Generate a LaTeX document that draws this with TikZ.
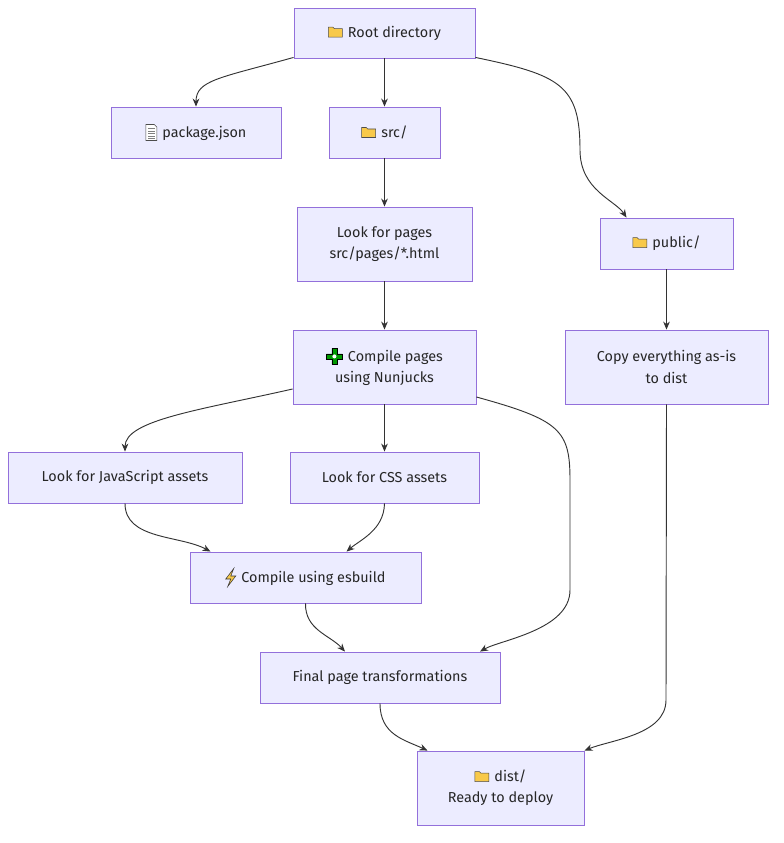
\documentclass[tikz,border=0pt]{standalone}
\usepackage{fontspec}
\setmainfont{Fira Sans}
\usetikzlibrary{arrows.meta}
\definecolor{nfill}{HTML}{ECECFF}
\definecolor{nline}{HTML}{9370DB}
\definecolor{eline}{HTML}{333333}
\definecolor{fold}{HTML}{F8C94A}
\begin{document}
\begin{tikzpicture}[x=0.75pt,y=-0.75pt,
  box/.style={draw=nline,fill=nfill,line width=0.65pt,inner sep=0pt,align=center,font=\fontsize{10.8}{16}\selectfont,text=black!85},
  e/.style={draw=eline,line width=0.7pt,-{Stealth[length=6pt,width=5pt]}},
  folder/.pic={\fill[fold,draw=black!70,line width=0.4pt] (-7,-5)--(-2.5,-5)--(-1,-3.5)--(7,-3.5)--(7,5)--(-7,5)--cycle;},
  doc/.pic={\fill[white,draw=black!70,line width=0.4pt] (-5.5,-8)--(3,-8)--(5.5,-5.5)--(5.5,8)--(-5.5,8)--cycle;
    \foreach \yy in {-4,-1.5,1,3.5,6} \draw[black!50,line width=0.4pt] (-3.5,\yy)--(3.5,\yy);},
  puzzle/.pic={\fill[green!60!black,draw=black,line width=0.4pt] (-2.5,-8)--(2.5,-8)--(2.5,-2.5)--(8,-2.5)--(8,2.5)--(2.5,2.5)--(2.5,8)--(-2.5,8)--(-2.5,2.5)--(-8,2.5)--(-8,-2.5)--(-2.5,-2.5)--cycle;
    \fill[white] (0,0) circle (2);},
  bolt/.pic={\fill[fold,draw=black!80,line width=0.4pt] (3,-9)--(-5,1.5)--(0,1.5)--(-3,9)--(5,-1.5)--(0,-1.5)--cycle;}]
\useasboundingbox (0,0) rectangle (784,843);
\newcommand{\ic}[1]{\tikz[baseline=-3.8pt,x=0.75pt,y=-0.75pt]\pic{#1};\hspace{4pt}}
\node[box,minimum width=181*0.75pt,minimum height=50*0.75pt] (root) at (384.5,33) {\ic{folder}Root directory};
\node[box,minimum width=170*0.75pt,minimum height=51*0.75pt] (pkg) at (196,132.5) {\ic{doc}package.json};
\node[box,minimum width=111*0.75pt,minimum height=51*0.75pt] (src) at (384.5,132.5) {\ic{folder}src/};
\node[box,minimum width=175*0.75pt,minimum height=74*0.75pt] (look) at (384.5,244) {Look for pages\\src/pages/*.html};
\node[box,minimum width=133*0.75pt,minimum height=51*0.75pt] (pub) at (666.5,243.5) {\ic{folder}public/};
\node[box,minimum width=183*0.75pt,minimum height=74*0.75pt] (comp) at (384.5,367) {\ic{puzzle}Compile pages\\using Nunjucks};
\node[box,minimum width=203*0.75pt,minimum height=74*0.75pt] (copy) at (666.5,367) {Copy everything as-is\\to dist};
\node[box,minimum width=234*0.75pt,minimum height=51*0.75pt] (js) at (125,477.5) {Look for JavaScript assets};
\node[box,minimum width=189*0.75pt,minimum height=51*0.75pt] (css) at (384.5,477.5) {Look for CSS assets};
\node[box,minimum width=231*0.75pt,minimum height=51*0.75pt] (esb) at (305.5,577.5) {\ic{bolt}Compile using esbuild};
\node[box,minimum width=240*0.75pt,minimum height=51*0.75pt] (fin) at (380,677.5) {Final page transformations};
\node[box,minimum width=167*0.75pt,minimum height=74*0.75pt] (dist) at (500.5,788) {\ic{folder}dist/\\Ready to deploy};
\draw[e] (root.south west) ++(0,-1) .. controls (220,78) and (196,80) .. (pkg.north);
\draw[e] (root) -- (src);
\draw[e] (root.south east) ++(0,-1) .. controls (560,75) and (580,85) .. (580,150) .. controls (580,190) and (615,200) .. ([xshift=-40*0.75pt]pub.north);
\draw[e] (src) -- (look);
\draw[e] (look) -- (comp);
\draw[e] (pub) -- (copy);
\draw[e] (comp.west) ++(0,22) .. controls (200,410) and (125,420) .. (js.north);
\draw[e] (comp) -- (css);
\draw[e] (comp.east) ++(0,30) .. controls (560,420) and (570,430) .. (570,480) -- (570,590) .. controls (570,630) and (500,640) .. ([xshift=100*0.75pt]fin.north);
\draw[e] (js.south) .. controls (125,540) and (180,535) .. ([xshift=-95*0.75pt]esb.north);
\draw[e] (css.south) .. controls (384,530) and (360,540) .. ([xshift=41*0.75pt]esb.north);
\draw[e] (esb.south) .. controls (305,630) and (330,635) .. ([xshift=-35*0.75pt]fin.north);
\draw[e] (fin.south) .. controls (380,735) and (405,740) .. ([xshift=-73*0.75pt]dist.north);
\draw[e] (copy.south) -- (666,700) .. controls (666,735) and (610,740) .. ([xshift=84*0.75pt]dist.north);
\end{tikzpicture}
\end{document}
